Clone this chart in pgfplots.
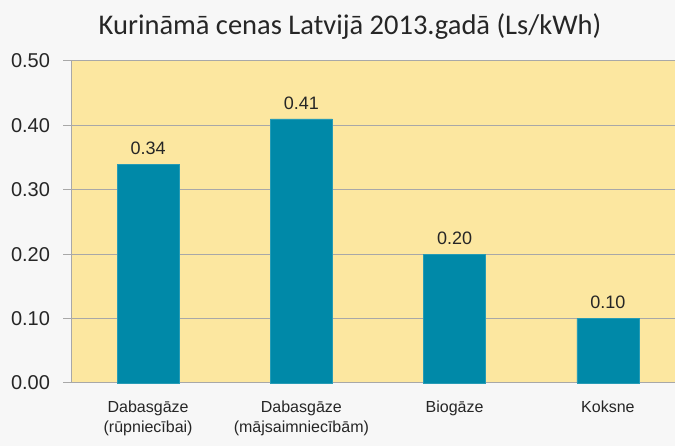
\documentclass[border=0pt]{standalone}
\usepackage{pgfplots}
\pgfplotsset{compat=1.18}
\usepackage{fontspec}
\setmainfont{Liberation Sans}
\newfontfamily\titlefont{Carlito}
\definecolor{plotbg}{HTML}{FCE7A0}
\definecolor{barc}{HTML}{0089A8}
\definecolor{gridc}{HTML}{A8A8A8}
\definecolor{pagebg}{HTML}{F7F7F7}
\begin{document}
\begin{tikzpicture}[x=1pt,y=1pt]
\clip (0,0) rectangle (675,446);
\fill[pagebg] (0,0) rectangle (675,446);
\node[font=\titlefont\fontsize{28.5}{32}\selectfont, text=black!85] at (350,419) {Kurināmā cenas Latvijā 2013.gadā (Ls/kWh)};
\begin{axis}[
  at={(71.5pt,63pt)}, anchor=south west,
  scale only axis, width=613pt, height=322pt,
  xmin=-0.5, xmax=3.5, ymin=0, ymax=0.5,
  axis background/.style={fill=plotbg},
  axis line style={gridc, line width=1pt},
  axis x line*=bottom, axis y line*=left,
  /pgf/number format/assume math mode=true,
  ytick={0,0.1,0.2,0.3,0.4,0.5},
  yticklabel style={/pgf/number format/.cd, fixed, fixed zerofill, precision=2, /tikz/.cd, font=\fontsize{20}{24}\selectfont, text=black!85},
  ymajorgrids, grid style={gridc, line width=1pt},
  ytick style={gridc, line width=1pt},
  y tick label style={xshift=-10pt},
  tick align=outside,
  major tick length=8pt,
  xtick={0,1,2,3},
  xticklabels={{Dabasgāze\\(rūpniecībai)},{Dabasgāze\\(mājsaimniecībām)},Biogāze,Koksne},
  xticklabel style={align=center, font=\fontsize{16}{20}\selectfont, text=black!85, yshift=-6pt},
  x tick style={draw=none},
  extra x ticks={0.5,1.5,2.5},
  extra x tick labels={},
  extra x tick style={tick style={draw=gridc, line width=1pt}, major tick length=6pt},
  ybar, bar width=62pt,
  nodes near coords,
  nodes near coords style={/pgf/number format/.cd, fixed, fixed zerofill, precision=2, /tikz/.cd, font=\fontsize{18}{22}\selectfont, text=black!85, yshift=6pt},
  clip=false,
]
\addplot[fill=barc, draw=barc!85!white] coordinates {(0,0.34) (1,0.41) (2,0.20) (3,0.10)};
\end{axis}
\end{tikzpicture}
\end{document}
